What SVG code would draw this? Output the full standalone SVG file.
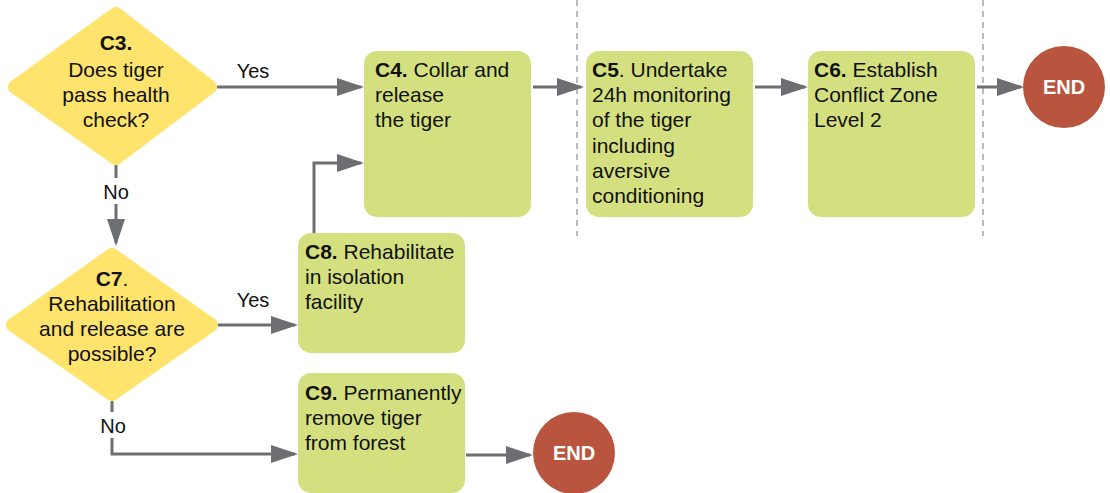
<svg xmlns="http://www.w3.org/2000/svg" width="1110" height="493" viewBox="0 0 1110 493">
<style>
text{font-family:"Liberation Sans",Arial,sans-serif;font-size:21px;fill:#111}
.b{font-weight:bold}
.c{text-anchor:middle}
.lbl{font-size:20px}
.dia{fill:#fee46c;stroke:#fee46c;stroke-width:14;stroke-linejoin:round}
.box{fill:#d4e07f}
.end{fill:#b9543e}
.endt{fill:#fff;font-weight:bold;font-size:20px;text-anchor:middle}
.ln{fill:none;stroke:#6d6e71;stroke-width:3}
.dash{stroke:#777;stroke-width:1;stroke-dasharray:6 5}
</style>
<defs>
<marker id="ah" markerWidth="9" markerHeight="6" refX="8" refY="3" orient="auto" markerUnits="strokeWidth">
<path d="M0,0 L9,3 L0,6 z" fill="#6d6e71"/>
</marker>
</defs>
<g id="separators">
<line class="dash" x1="577" y1="0" x2="577" y2="236"/>
<line class="dash" x1="983" y1="0" x2="983" y2="236"/>
</g>
<g id="connectors">
<path class="ln" d="M217,87 H361" marker-end="url(#ah)"/>
<path class="ln" d="M116,165 V243" marker-end="url(#ah)"/>
<path class="ln" d="M314,233 V163 H361" marker-end="url(#ah)"/>
<path class="ln" d="M218,325 H295" marker-end="url(#ah)"/>
<path class="ln" d="M112,401 V454 H295" marker-end="url(#ah)"/>
<path class="ln" d="M533,87 H581" marker-end="url(#ah)"/>
<path class="ln" d="M755,87 H805" marker-end="url(#ah)"/>
<path class="ln" d="M977,87 H1021" marker-end="url(#ah)"/>
<path class="ln" d="M466,455 H530" marker-end="url(#ah)"/>
<rect x="100" y="178" width="32" height="26" fill="#fff"/>
<text class="lbl c" x="116" y="199">No</text>
<text class="lbl c" x="253" y="78">Yes</text>
<text class="lbl c" x="253" y="307">Yes</text>
<rect x="96" y="412" width="32" height="26" fill="#fff"/>
<text class="lbl c" x="113" y="433">No</text>
</g>
<g id="C3">
<polygon class="dia" points="116,14 210,87 116,158 15,87"/>
<text class="c" x="116" y="50"><tspan class="b">C3.</tspan></text>
<text class="c" x="116" y="77">Does tiger</text>
<text class="c" x="116" y="102">pass health</text>
<text class="c" x="116" y="127">check?</text>
</g>
<g id="C7">
<polygon class="dia" points="112,255 211,325 112,394 13,325"/>
<text class="c" x="112" y="286"><tspan class="b">C7</tspan>.</text>
<text class="c" x="112" y="311">Rehabilitation</text>
<text class="c" x="112" y="336">and release are</text>
<text class="c" x="112" y="361">possible?</text>
</g>
<g id="C4">
<rect class="box" x="364" y="51" width="167" height="166" rx="13"/>
<text x="375" y="77"><tspan class="b">C4.</tspan> Collar and</text>
<text x="375" y="102">release</text>
<text x="375" y="127">the tiger</text>
</g>
<g id="C5">
<rect class="box" x="586" y="51" width="167" height="166" rx="13"/>
<text x="592" y="77"><tspan class="b">C5</tspan>. Undertake</text>
<text x="592" y="102">24h monitoring</text>
<text x="592" y="127">of the tiger</text>
<text x="592" y="153">including</text>
<text x="592" y="178">aversive</text>
<text x="592" y="203">conditioning</text>
</g>
<g id="C6">
<rect class="box" x="808" y="51" width="167" height="166" rx="13"/>
<text x="814" y="77"><tspan class="b">C6.</tspan> Establish</text>
<text x="814" y="102">Conflict Zone</text>
<text x="814" y="127">Level 2</text>
</g>
<g id="END1">
<circle class="end" cx="1064" cy="87" r="41"/>
<text class="endt" x="1064" y="94">END</text>
</g>
<g id="C8">
<rect class="box" x="298" y="233" width="167" height="120" rx="13"/>
<text x="305" y="259"><tspan class="b">C8.</tspan> Rehabilitate</text>
<text x="305" y="284">in isolation</text>
<text x="305" y="309">facility</text>
</g>
<g id="C9">
<rect class="box" x="298" y="373" width="167" height="120" rx="13"/>
<text x="305" y="400"><tspan class="b">C9.</tspan> Permanently</text>
<text x="305" y="425">remove tiger</text>
<text x="305" y="450">from forest</text>
</g>
<g id="END2">
<circle class="end" cx="574" cy="453" r="41"/>
<text class="endt" x="574" y="460">END</text>
</g>
</svg>
